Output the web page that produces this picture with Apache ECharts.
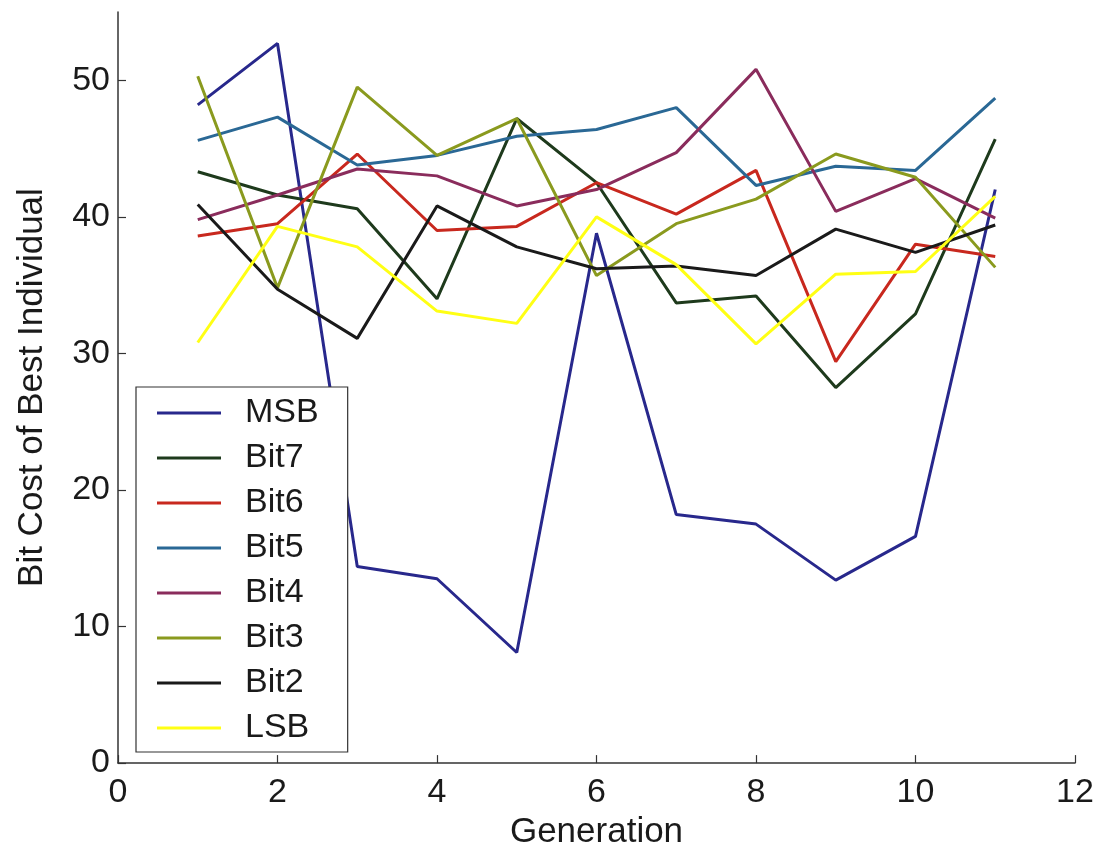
<!DOCTYPE html>
<html>
<head>
<meta charset="utf-8">
<script src="https://cdn.jsdelivr.net/npm/echarts@6/dist/echarts.min.js"></script>
<style>
  html, body { margin: 0; padding: 0; background: #fff; }
  #chart { width: 1107px; height: 855px; }
</style>
</head>
<body>
<div id="chart"></div>
<script>
// Generations on the x axis
const generations = [1, 2, 3, 4, 5, 6, 7, 8, 9, 10, 11];

// Bit cost of the best individual per bit position
const msb  = [48.2, 52.7, 14.4, 13.5, 8.1, 38.8, 18.2, 17.5, 13.4, 16.6, 42.0];
const bit7 = [43.3, 41.6, 40.6, 34.0, 47.2, 42.5, 33.7, 34.2, 27.5, 32.9, 45.7];
const bit6 = [38.6, 39.5, 44.6, 39.0, 39.3, 42.5, 40.2, 43.4, 29.4, 38.0, 37.1];
const bit5 = [45.6, 47.3, 43.8, 44.5, 45.9, 46.4, 48.0, 42.3, 43.7, 43.4, 48.7];
const bit4 = [39.8, 41.6, 43.5, 43.0, 40.8, 42.0, 44.7, 50.8, 40.4, 42.8, 39.9];
const bit3 = [50.3, 34.8, 49.5, 44.5, 47.2, 35.7, 39.5, 41.3, 44.6, 42.9, 36.3];
const bit2 = [40.9, 34.7, 31.1, 40.8, 37.8, 36.2, 36.4, 35.7, 39.1, 37.4, 39.4];
const lsb  = [30.8, 39.3, 37.8, 33.1, 32.2, 40.0, 36.5, 30.7, 35.8, 36.0, 41.5];

const seriesNames = ['MSB', 'Bit7', 'Bit6', 'Bit5', 'Bit4', 'Bit3', 'Bit2', 'LSB'];
const seriesData = [msb, bit7, bit6, bit5, bit4, bit3, bit2, lsb];
const seriesColors = ['#28288c', '#1e3a1c', '#c8281e', '#2a6895', '#8a2c5c', '#8a9a1e', '#1a1a1a', '#ffff14'];

// Tick labels
const xTicks = [0, 2, 4, 6, 8, 10, 12];
const yTicks = [0, 10, 20, 30, 40, 50];

const FONT = '"Liberation Sans", Arial, sans-serif';
const INK = '#1a1a1a';

const chart = echarts.init(document.getElementById('chart'), null, { renderer: 'canvas' });

chart.setOption({
  backgroundColor: '#ffffff',
  animation: false,
  grid: { left: 118, right: 32, top: 12, bottom: 86, containLabel: false },
  xAxis: {
    type: 'value',
    min: 0, max: 12, interval: 2,
    name: 'Generation',
    nameLocation: 'middle',
    nameGap: 50,
    nameTextStyle: { fontFamily: FONT, fontSize: 35, color: INK },
    axisLine: { show: true, onZero: false, lineStyle: { color: '#333', width: 1.5 } },
    axisTick: { show: true, inside: true, length: 8, lineStyle: { color: '#333', width: 1.2 }, customValues: xTicks },
    axisLabel: { fontFamily: FONT, fontSize: 34, color: INK, margin: 13, customValues: xTicks },
    splitLine: { show: false }
  },
  yAxis: {
    type: 'value',
    min: 0, max: 55, interval: 10,
    name: 'Bit Cost of Best Individual',
    nameLocation: 'middle',
    nameGap: 68,
    nameTextStyle: { fontFamily: FONT, fontSize: 35, color: INK },
    axisLine: { show: true, onZero: false, lineStyle: { color: '#333', width: 1.5 } },
    axisTick: { show: true, inside: true, length: 8, lineStyle: { color: '#333', width: 1.2 }, customValues: yTicks },
    axisLabel: { fontFamily: FONT, fontSize: 34, color: INK, margin: 8, customValues: yTicks },
    splitLine: { show: false }
  },
  legend: {
    orient: 'vertical',
    left: 136,
    top: 387,
    data: seriesNames.map(name => ({ name, icon: 'rect' })),
    backgroundColor: '#ffffff',
    borderColor: '#333',
    borderWidth: 1.2,
    padding: [9, 29, 7, 21],
    itemWidth: 64,
    itemHeight: 3,
    itemGap: 11,
    textStyle: { fontFamily: FONT, fontSize: 34, color: INK, lineHeight: 34, padding: [0, 0, 0, 19] }
  },
  series: seriesNames.map((name, i) => ({
    name,
    type: 'line',
    symbol: 'none',
    data: generations.map((g, j) => [g, seriesData[i][j]]),
    lineStyle: { color: seriesColors[i], width: 3 },
    itemStyle: { color: seriesColors[i] },
    z: 2
  }))
});
</script>
</body>
</html>
